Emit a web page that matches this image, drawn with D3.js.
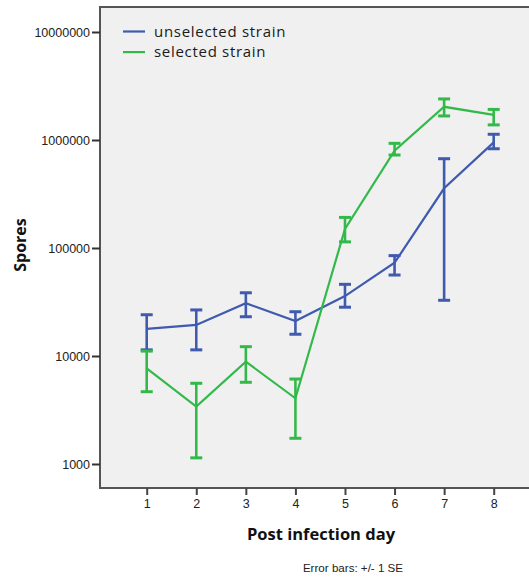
<!DOCTYPE html>
<html>
<head>
<meta charset="utf-8">
<script src="https://cdn.jsdelivr.net/npm/d3@7"></script>
<style>
  html, body { margin: 0; padding: 0; background: #ffffff; }
  svg { display: block; }
</style>
</head>
<body>
<svg id="chart" width="529" height="579"></svg>
<script>
// Post infection day
const days = [1, 2, 3, 4, 5, 6, 7, 8];

// Mean spore counts with +/- 1 SE bounds
const unselectedMean  = [17800, 19400, 30800, 21100, 35900, 73000, 357000, 950000];
const unselectedUpper = [24100, 26700, 38500, 25700, 46100, 85000, 671000, 1130000];
const unselectedLower = [11400, 11400, 23100, 15900, 28300, 56200, 32800, 830000];

const selectedMean  = [7700, 3400, 8850, 4060, 150000, 796000, 2030000, 1710000];
const selectedUpper = [11100, 5590, 12200, 6120, 192000, 931000, 2400000, 1920000];
const selectedLower = [4670, 1140, 5710, 1730, 114000, 726000, 1670000, 1380000];

const yTicks = [1000, 10000, 100000, 1000000, 10000000];
const seriesNames = ["unselected strain", "selected strain"];
const seriesColors = ["#3f5aae", "#33b94a"];

const svg = d3.select("#chart");

const plot = { left: 100, top: 7, right: 545, bottom: 488 };

const x = d3.scaleLinear().domain([1, 8]).range([146.7, 493.7]);
const y = d3.scaleLog().domain([1000, 10000000]).range([464, 32]);

// Plot background and frame
svg.append("rect")
  .attr("x", plot.left).attr("y", plot.top)
  .attr("width", plot.right - plot.left).attr("height", plot.bottom - plot.top)
  .attr("fill", "#f0f0f0")
  .attr("stroke", "#555555")
  .attr("stroke-width", 2);

// Y axis
const yAxis = d3.axisLeft(y)
  .tickValues(yTicks)
  .tickFormat(d3.format("d"))
  .tickSize(8)
  .tickPadding(2);
const gy = svg.append("g").attr("transform", `translate(${plot.left},0)`).call(yAxis);
gy.select(".domain").remove();
gy.selectAll(".tick line").attr("stroke", "#333").attr("stroke-width", 2);
gy.selectAll(".tick text")
  .attr("font-family", "Liberation Sans, Arial, sans-serif")
  .attr("font-size", 12.5)
  .attr("fill", "#222");

// X axis
const xAxis = d3.axisBottom(x)
  .tickValues(days)
  .tickFormat(d3.format("d"))
  .tickSize(7)
  .tickPadding(4);
const gx = svg.append("g").attr("transform", `translate(0,${plot.bottom})`).call(xAxis);
gx.select(".domain").remove();
gx.selectAll(".tick line").attr("stroke", "#444").attr("stroke-width", 2);
gx.selectAll(".tick text")
  .attr("font-family", "Liberation Sans, Arial, sans-serif")
  .attr("font-size", 12.5)
  .attr("fill", "#222");

// Series
const series = [
  { mean: unselectedMean, upper: unselectedUpper, lower: unselectedLower },
  { mean: selectedMean, upper: selectedUpper, lower: selectedLower }
];

const line = d3.line().x(d => x(d.day)).y(d => y(d.v));
const capHalf = 6;

series.forEach((s, i) => {
  const color = seriesColors[i];
  const pts = days.map((day, k) => ({ day, v: s.mean[k], hi: s.upper[k], lo: s.lower[k] }));
  const g = svg.append("g");

  g.append("path")
    .datum(pts)
    .attr("d", line)
    .attr("fill", "none")
    .attr("stroke", color)
    .attr("stroke-width", 2.2);

  const bars = g.selectAll(".err").data(pts).join("g").attr("class", "err");
  bars.append("line")
    .attr("x1", d => x(d.day)).attr("x2", d => x(d.day))
    .attr("y1", d => y(d.hi)).attr("y2", d => y(d.lo))
    .attr("stroke", color).attr("stroke-width", 2.6);
  bars.append("line")
    .attr("x1", d => x(d.day) - capHalf).attr("x2", d => x(d.day) + capHalf)
    .attr("y1", d => y(d.hi)).attr("y2", d => y(d.hi))
    .attr("stroke", color).attr("stroke-width", 3);
  bars.append("line")
    .attr("x1", d => x(d.day) - capHalf).attr("x2", d => x(d.day) + capHalf)
    .attr("y1", d => y(d.lo)).attr("y2", d => y(d.lo))
    .attr("stroke", color).attr("stroke-width", 3);
});

// Legend
const legend = svg.append("g");
seriesNames.forEach((name, i) => {
  const ly = 31.5 + i * 20.6;
  legend.append("line")
    .attr("x1", 123).attr("x2", 145)
    .attr("y1", ly).attr("y2", ly)
    .attr("stroke", seriesColors[i]).attr("stroke-width", 2.2);
  legend.append("text")
    .attr("x", 154).attr("y", ly)
    .attr("dy", "0.35em")
    .attr("font-family", "Open Sans, Noto Sans, sans-serif")
    .attr("font-size", 15)
    .attr("letter-spacing", 0.7)
    .attr("fill", "#1a1a1a")
    .text(name);
});

// Axis titles
svg.append("text")
  .attr("transform", "translate(26,245) rotate(-90)")
  .attr("text-anchor", "middle")
  .attr("font-family", "Open Sans, Noto Sans, sans-serif")
  .attr("font-weight", "bold")
  .attr("font-size", 16)
  .attr("fill", "#111")
  .text("Spores");

svg.append("text")
  .attr("x", 321).attr("y", 540)
  .attr("text-anchor", "middle")
  .attr("font-family", "Open Sans, Noto Sans, sans-serif")
  .attr("font-weight", "bold")
  .attr("font-size", 16.5)
  .attr("fill", "#111")
  .text("Post infection day");

svg.append("text")
  .attr("x", 353).attr("y", 572)
  .attr("text-anchor", "middle")
  .attr("font-family", "Liberation Sans, Arial, sans-serif")
  .attr("font-size", 11.6)
  .attr("fill", "#222")
  .text("Error bars: +/- 1 SE");
</script>
</body>
</html>
